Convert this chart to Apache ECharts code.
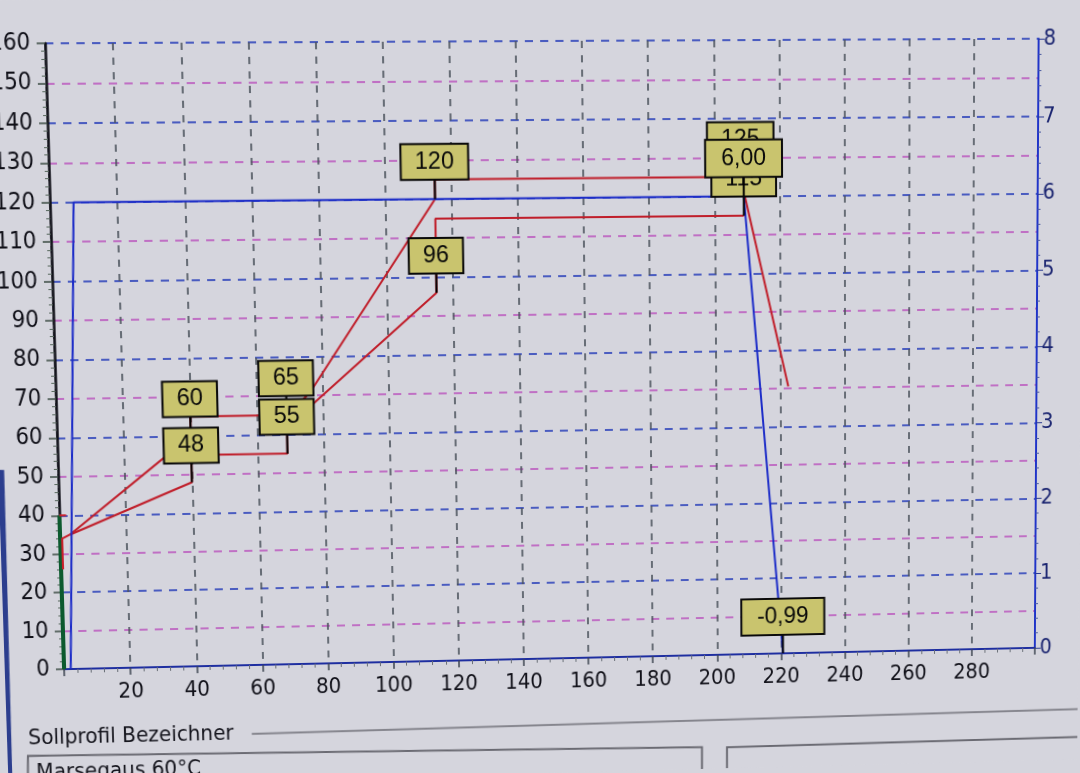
<!DOCTYPE html>
<html><head><meta charset="utf-8">
<script src="https://cdn.jsdelivr.net/npm/echarts@6/dist/echarts.min.js"></script>
<style>html,body{margin:0;padding:0;background:#d5d5dd;overflow:hidden;width:1080px;height:773px}#c{width:1080px;height:773px;transform-origin:0 0}</style>
</head><body><div id="c"></div>
<script>
// ---- tick labels ----
const xTicks = [20, 40, 60, 80, 100, 120, 140, 160, 180, 200, 220, 240, 260, 280];
const leftTicks = [0, 10, 20, 30, 40, 50, 60, 70, 80, 90, 100, 110, 120, 130, 140, 150, 160];
const rightTicks = [0, 1, 2, 3, 4, 5, 6, 7, 8];

// ---- series (x = time, y = temperature on left axis) ----
const upperBand = [[3, 35], [40, 60], [40, 65], [69, 65], [76, 70.5], [115, 120], [115, 125], [208, 125], [222.5, 70.5]];
const lowerBand = [[3, 35], [40, 48], [40, 55], [69, 55], [69, 61], [76, 67], [115, 96], [115, 115], [209, 115]];
const upperLabelIdx = [1, 3, 5, 7];
const lowerLabelIdx = [1, 3, 6, 8];
// setpoint (right axis)
const setpoint = [[2, 0], [7, 6.00], [209, 6.00], [222.5, -0.99]];
const setpointLabelIdx = [2, 3];
const greenTrace = [[0, 0], [0, 40]];
const redTrace = [[0.6, 26], [0.6, 34], [3, 35]];
const redTick = [[0, 40], [2, 40]];

const FONT = "'Liberation Sans Narrow','DejaVu Sans Condensed','Liberation Sans',Arial,sans-serif";
const BOXFONT = "23px 'Liberation Sans',Arial,sans-serif";
const GAP = 20;

// ---- photo perspective: chart points (value space) and where the photo shows them ----
const GL = 58, GT = 41, GR = 1035, GB = 656;
const toPage = (x, y) => [GL + x / 300 * (GR - GL), GB - y / 160 * (GB - GT)];
const photoCorners = [[0, 160, 48, 43], [300, 160, 1037, 39], [0, 0, 67, 667], [300, 0, 1032, 645]];
const photoInner = [
  [40, 48, 183, 482], [115, 120, 432, 197], [209, 120, 750, 193], [220.6, 0, 790, 655],
  [115, 96, 432, 293], [69, 55, 283, 456], [200, 110, 722, 233], [240, 20, 852, 585],
  [100, 80, 387, 360], [120, 60, 453, 437], [40, 70, 183, 398],
  [0, 120, 49, 201], [0, 60, 55, 438], [0, 30, 62, 555]
];
const photoRefs = photoCorners.concat(photoCorners, photoCorners, photoInner);
function solve(A, b) {
  const n = b.length;
  for (let c = 0; c < n; c++) {
    let p = c;
    for (let r = c + 1; r < n; r++) if (Math.abs(A[r][c]) > Math.abs(A[p][c])) p = r;
    [A[c], A[p]] = [A[p], A[c]]; [b[c], b[p]] = [b[p], b[c]];
    for (let r = 0; r < n; r++) {
      if (r === c) continue;
      const f = A[r][c] / A[c][c];
      for (let k = c; k < n; k++) A[r][k] -= f * A[c][k];
      b[r] -= f * b[c];
    }
  }
  return b.map((v, i) => v / A[i][i]);
}
function fitHomography(src, dst) {
  const rows = [], rhs = [];
  for (let i = 0; i < src.length; i++) {
    const [x, y] = src[i], [u, v] = dst[i];
    rows.push([x, y, 1, 0, 0, 0, -u * x, -u * y]); rhs.push(u);
    rows.push([0, 0, 0, x, y, 1, -v * x, -v * y]); rhs.push(v);
  }
  const N = Array.from({ length: 8 }, () => new Array(8).fill(0)), r = new Array(8).fill(0);
  rows.forEach((row, k) => { for (let i = 0; i < 8; i++) { r[i] += row[i] * rhs[k]; for (let j = 0; j < 8; j++) N[i][j] += row[i] * row[j]; } });
  return solve(N, r);
}
const srcPts = photoRefs.map(p => toPage(p[0], p[1]));
const dstPts = photoRefs.map(p => [p[2], p[3]]);
const H = fitHomography(srcPts, dstPts);
const Hinv = fitHomography(dstPts, srcPts);
function mapH(h, p) {
  const w = h[6] * p[0] + h[7] * p[1] + 1;
  return [(h[0] * p[0] + h[1] * p[1] + h[2]) / w, (h[3] * p[0] + h[4] * p[1] + h[5]) / w];
}
const inv = p => mapH(Hinv, p);
document.getElementById('c').style.transform =
  'matrix3d(' + [H[0], H[3], 0, H[6], H[1], H[4], 0, H[7], 0, 0, 1, 0, H[2], H[5], 0, 1].join(',') + ')';

function anchorFor(arr, i, yMin) {
  const p = arr[i];
  if (p[1] >= yMin || i === 0) return [p[0], Math.max(p[1], yMin)];
  const q = arr[i - 1];
  const t = (yMin - q[1]) / (p[1] - q[1]);
  return [q[0] + (p[0] - q[0]) * t, yMin];
}
const leftLabels = [], leftTexts = [];
upperLabelIdx.forEach(i => { leftLabels.push(upperBand[i].slice()); leftTexts.push(String(upperBand[i][1])); });
lowerLabelIdx.forEach(i => { leftLabels.push(lowerBand[i].slice()); leftTexts.push(String(lowerBand[i][1])); });
const rightLabels = [], rightTexts = [];
setpointLabelIdx.forEach(i => { rightLabels.push(anchorFor(setpoint, i, 0)); rightTexts.push(setpoint[i][1].toFixed(2).replace('.', ',')); });

function boxRenderer(texts, pad) {
  return function (params, api) {
    const p = api.coord([api.value(0), api.value(1)]);
    return {
      type: 'group',
      children: [
        { type: 'line', shape: { x1: p[0], y1: p[1], x2: p[0], y2: p[1] - GAP }, style: { stroke: '#000', lineWidth: 2 } },
        { type: 'text', x: p[0], y: p[1] - GAP, style: {
            text: texts[params.dataIndex], font: BOXFONT, fill: '#0a0a0a', align: 'center', verticalAlign: 'bottom',
            backgroundColor: '#c9c46e', borderColor: '#0a0a0a', borderWidth: 2, padding: pad } }
      ]
    };
  };
}

const pt = (x, y) => inv([x, y]);
const chart = echarts.init(document.getElementById('c'));
chart.setOption({
  backgroundColor: '#d5d5dd',
  animation: false,
  grid: { left: GL, right: 1080 - GR, top: GT, bottom: 773 - GB, show: false },
  xAxis: [
    { type: 'value', min: 0, max: 300, interval: 20, position: 'bottom',
      axisLine: { show: true, onZero: false, lineStyle: { color: '#141c5c', width: 2 } },
      axisTick: { show: true, length: 7, lineStyle: { color: '#3c4450', width: 1.5 } },
      minorTick: { show: true, splitNumber: 5, length: 4, lineStyle: { color: '#6a7078' } },
      axisLabel: { formatter: v => xTicks.includes(v) ? String(v) : '', color: '#101018', fontSize: 22, fontFamily: FONT, margin: 13 },
      splitLine: { show: true, lineStyle: { color: '#4c545c', type: [7, 7], width: 1.6 } } },
    { type: 'value', min: 0, max: 300, position: 'top',
      axisLine: { show: true, lineStyle: { color: '#1e2ea0', width: 2 } },
      axisTick: { show: false }, axisLabel: { show: false }, splitLine: { show: false } }
  ],
  yAxis: [
    { type: 'value', min: 0, max: 160, interval: 10, position: 'left',
      axisLine: { show: true, onZero: false, lineStyle: { color: '#101018', width: 2.5 } },
      axisTick: { show: true, length: 8, lineStyle: { color: '#3c4c44', width: 1.5 } },
      minorTick: { show: true, splitNumber: 5, length: 4, lineStyle: { color: '#5a6a60' } },
      axisLabel: { formatter: v => leftTicks.includes(v) ? String(v) : '', color: '#101018', fontSize: 23, fontFamily: FONT, margin: 14 },
      splitLine: { show: true, lineStyle: { color: ['#4a5cc0', '#c070c4'], type: [8, 7], width: 1.8 } } },
    { type: 'value', min: 0, max: 8, interval: 1, position: 'right',
      axisLine: { show: true, onZero: false, lineStyle: { color: '#2034c8', width: 2 } },
      axisTick: { show: true, length: 6, lineStyle: { color: '#2a3a90' } },
      minorTick: { show: true, splitNumber: 5, length: 3, lineStyle: { color: '#4a5aa0' } },
      axisLabel: { formatter: v => rightTicks.includes(v) ? String(v) : '', color: '#1a2470', fontSize: 22, fontFamily: FONT, margin: 5 },
      splitLine: { show: false } }
  ],
  series: [
    { type: 'line', name: 'green', data: greenTrace, showSymbol: false, clip: false, z: 3,
      lineStyle: { color: '#0c5a2e', width: 4 } },
    { type: 'line', name: 'trace', data: redTrace, showSymbol: false, clip: false, z: 3,
      lineStyle: { color: '#c81e28', width: 2 } },
    { type: 'line', name: 'tick', data: redTick, showSymbol: false, clip: false, z: 3,
      lineStyle: { color: '#c81e28', width: 2 } },
    { type: 'line', name: 'upper', data: upperBand, showSymbol: false, z: 3,
      lineStyle: { color: '#c01e2a', width: 2 } },
    { type: 'line', name: 'lower', data: lowerBand, showSymbol: false, z: 3,
      lineStyle: { color: '#c01e2a', width: 2 } },
    { type: 'line', name: 'setpoint', data: setpoint, yAxisIndex: 1, showSymbol: false, z: 4, clip: true,
      lineStyle: { color: '#1c2cc8', width: 2 } },
    { type: 'custom', name: 'labelsLeft', data: leftLabels, yAxisIndex: 0, clip: false, z: 6,
      encode: { x: 0, y: 1 }, renderItem: boxRenderer(leftTexts, [5, 13]) },
    { type: 'custom', name: 'labelsRight', data: rightLabels, yAxisIndex: 1, clip: false, z: 7,
      encode: { x: 0, y: 1 }, renderItem: boxRenderer(rightTexts, [6, 15]) }
  ],
  graphic: [
    { type: 'polygon', shape: { points: [pt(-20, 470), pt(4, 470), pt(13, 800), pt(-20, 800)] }, style: { fill: '#2c3e8e' } },
    { type: 'text', x: pt(28, 728)[0], y: pt(28, 728)[1], style: { text: 'Sollprofil Bezeichner', font: "22px " + FONT, fill: '#14141c' } },
    { type: 'polyline', shape: { points: [pt(252, 734), pt(1100, 708)] }, style: { stroke: '#85858d', lineWidth: 2, fill: null } },
    { type: 'polyline', shape: { points: [pt(28, 800), pt(28, 756), pt(702, 747), pt(702, 800)] }, style: { stroke: '#6a6a72', lineWidth: 2, fill: null } },
    { type: 'polyline', shape: { points: [pt(727, 800), pt(727, 747), pt(1100, 736)] }, style: { stroke: '#6a6a72', lineWidth: 2, fill: null } },
    { type: 'text', x: pt(36, 762)[0], y: pt(36, 762)[1], style: { text: 'Marsegaus 60°C', font: "22px " + FONT, fill: '#14141c' } }
  ]
});
</script>
</body></html>
